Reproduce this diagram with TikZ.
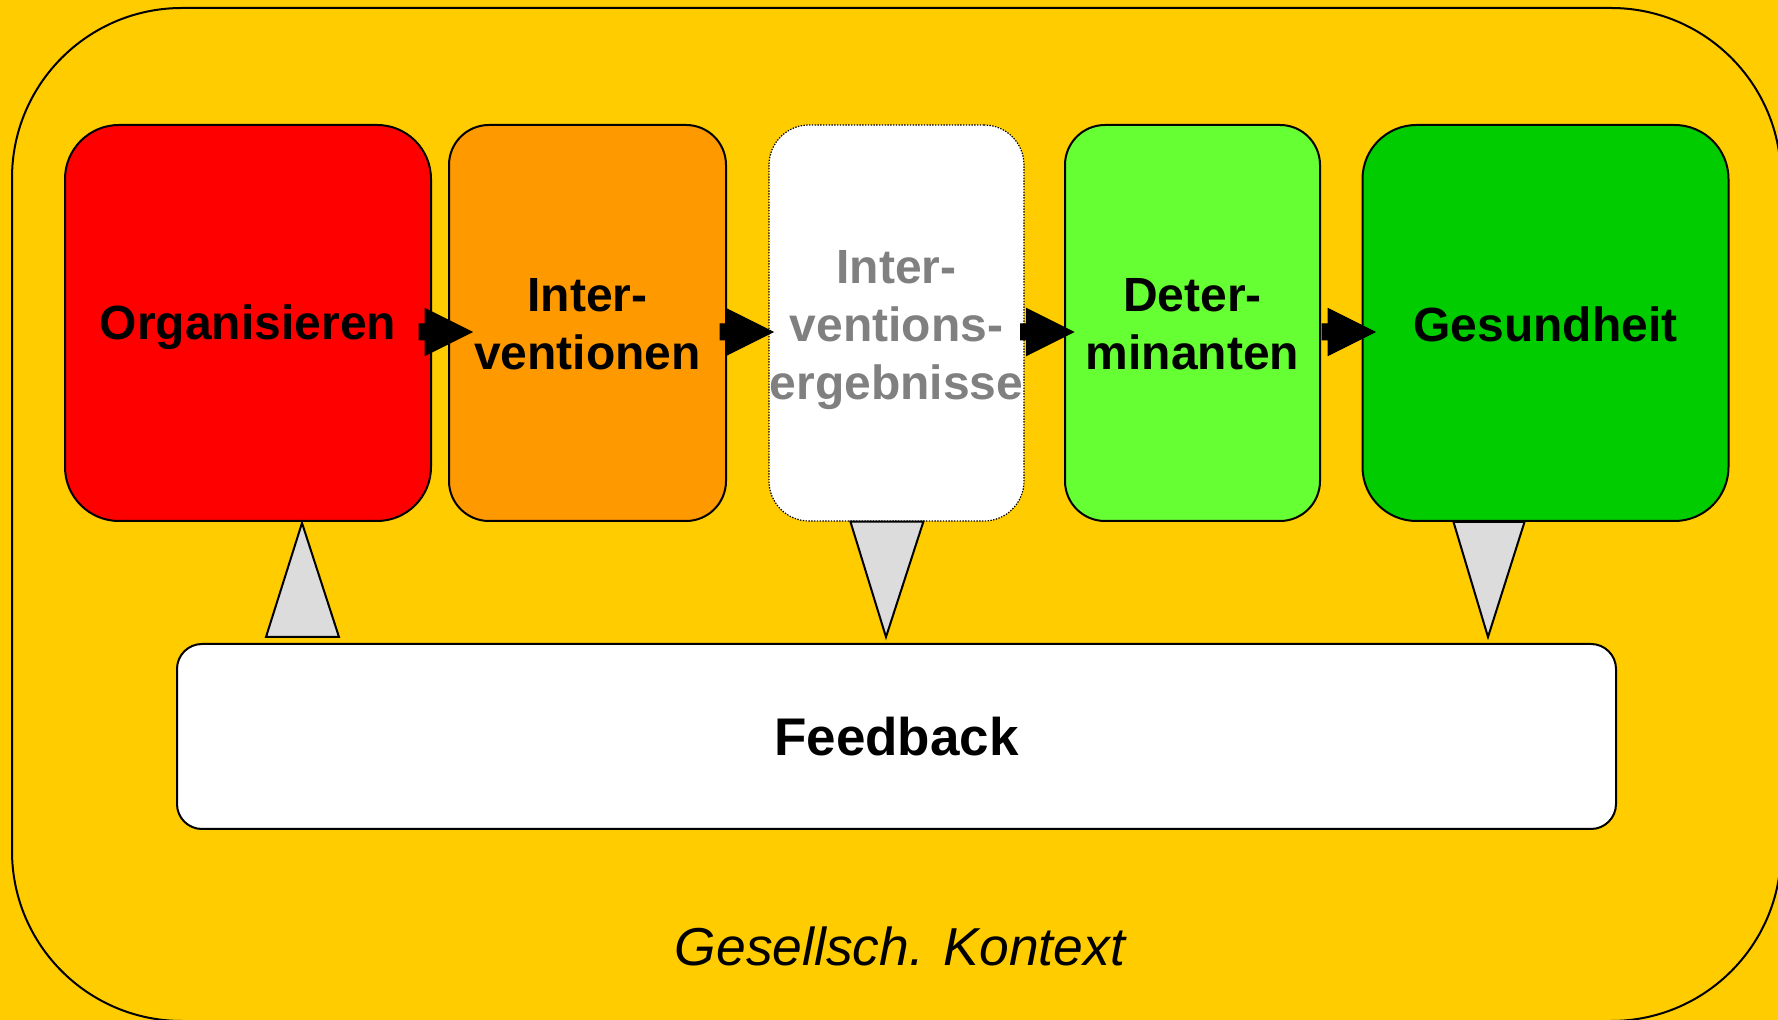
\documentclass[tikz,border=0pt]{standalone}
\usepackage{fontspec}
\setmainfont{Liberation Sans}
\usetikzlibrary{calc}
\definecolor{bgyellow}{HTML}{FFCC00}
\definecolor{boxred}{HTML}{FF0000}
\definecolor{boxorange}{HTML}{FF9900}
\definecolor{boxlgreen}{HTML}{66FF33}
\definecolor{boxgreen}{HTML}{00CC00}
\definecolor{trigray}{HTML}{DCDCDC}
\definecolor{txtgray}{HTML}{808080}
\tikzset{
  stage/.style={draw=black, line width=1pt, minimum height=198pt, inner sep=0pt},
  bigstage/.style={stage, rounded corners=27pt, minimum width=183pt},
  smallstage/.style={stage, rounded corners=20pt, minimum width=127.5pt},
  stagetext/.style={inner sep=0pt, align=center, font=\fontsize{24pt}{29pt}\selectfont\bfseries},
  fbbox/.style={draw=black, line width=1pt, fill=white, rounded corners=12.5pt,
    minimum width=719.5pt, minimum height=92.5pt, inner sep=0pt,
    font=\fontsize{26.5pt}{30pt}\selectfont\bfseries},
  tri/.style={draw=black, line width=1pt, fill=trigray, line join=miter},
  blockarrow/.style={fill=black, draw=black, line width=0.5pt}
}
\newcommand\barrow[1]{%
  \path[blockarrow] (#1) -- ++(0,-8) -- ++(6,0) -- ++(0,-15.5) -- ++(47,23.5)
    -- ++(-47,23.5) -- ++(0,-15.5) -- ++(-6,0) -- cycle;}
\begin{document}
\begin{tikzpicture}[x=0.5pt, y=-0.5pt]
\useasboundingbox (0,0) rectangle (1778,1020);
\fill[bgyellow] (0,0) rectangle (1778,1020);
\draw[line width=1pt, fill=bgyellow, rounded corners=85pt] (12,8) rectangle (1781,1021);

\node[bigstage, fill=boxred] (org) at (248,323) {};
\node[stage, rounded corners=20pt, minimum width=138.5pt, fill=boxorange] (int) at (587.5,323) {};
\node[smallstage, fill=white, draw=black, line width=0.6pt, dash pattern=on 0.7pt off 0.7pt] (ieg) at (896.5,323) {};
\node[smallstage, fill=boxlgreen] (det) at (1192.5,323) {};
\node[bigstage, fill=boxgreen] (ges) at (1545.5,323) {};

\node[stagetext] (orgt) at ($(org.center)+(0,4.5)$) {Organisieren};
\node[stagetext] (intt) at ($(int.center)+(0,1.7)$) {Inter-\\ventionen};
\node[stagetext, text=txtgray] (iegt) at ($(ieg.center)+(0,6.8)$) {Inter-\\ventions-\\ergebnisse};
\node[stagetext] (dett) at ($(det.center)+(0,1.7)$) {Deter-\\minanten};
\node[stagetext] (gest) at ($(ges.center)+(0,1.2)$) {Gesundheit};

\node[fbbox] (fb) at (896.5,736.5) {Feedback};
\node[font=\fontsize{26.7pt}{30pt}\selectfont\itshape] (ctx) at (900,946) {Gesellsch. Kontext};

% block arrows between stages
\coordinate (a1) at ($(org.east)+(-13,9)$);
\coordinate (a2) at ($(int.east)+(-7,9)$);
\coordinate (a3) at ($(ieg.east)+(-4,9)$);
\coordinate (a4) at ($(det.east)+(1,9)$);
\barrow{a1}
\barrow{a2}
\barrow{a3}
\barrow{a4}

% feedback triangles
\draw[tri] ($(org.south west)+(238,1)$) -- ($(fb.north west)+(163,-6)$) -- ($(fb.north west)+(90,-6)$) -- cycle;
\draw[tri] ($(ieg.south west)+(82,0)$) -- ($(ieg.south west)+(155,0)$) -- ($(fb.north west)+(710,-6)$) -- cycle;
\draw[tri] ($(ges.south west)+(92,0)$) -- ($(ges.south west)+(163,0)$) -- ($(fb.north west)+(1312,-6)$) -- cycle;
\end{tikzpicture}
\end{document}
